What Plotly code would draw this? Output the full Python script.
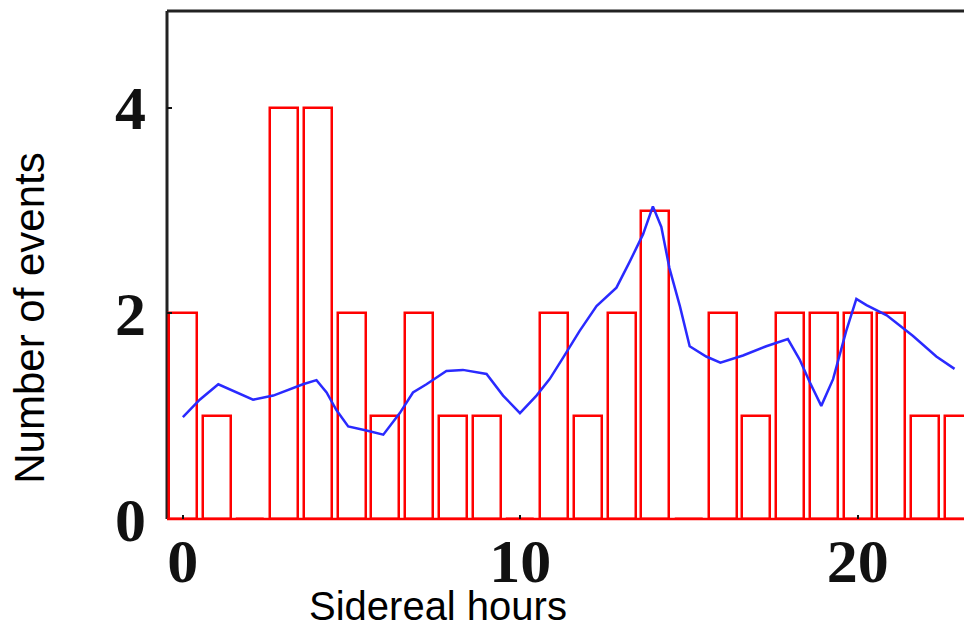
import plotly.graph_objects as go

# Event counts per sidereal hour bin
hours = list(range(24))
counts = [2, 1, 0, 4, 4, 2, 1, 2, 1, 1, 0, 2, 1, 2, 3, 0, 2, 1, 2, 2, 2, 2, 1, 1]

# Smoothed rate curve (sidereal hour, events)
curve_h = [0.0, 0.5, 1.05, 2.08, 2.68, 3.07, 3.56, 3.96, 4.26, 4.55, 4.90, 5.44,
           5.94, 6.43, 6.82, 7.22, 7.81, 8.3, 9.0, 9.49, 9.99, 10.48, 10.87, 11.27,
           11.76, 12.26, 12.85, 13.24, 13.64, 13.93, 14.18, 14.42, 14.73, 15.02,
           15.51, 15.93, 16.6, 17.29, 17.93, 18.28, 18.58, 18.92, 19.27, 19.66,
           19.96, 20.26, 20.86, 21.64, 22.33, 22.87]
curve_v = [0.99, 1.16, 1.31, 1.16, 1.20, 1.25, 1.31, 1.35, 1.23, 1.06, 0.90, 0.86,
           0.82, 1.03, 1.23, 1.31, 1.44, 1.45, 1.41, 1.20, 1.03, 1.20, 1.36, 1.57,
           1.83, 2.07, 2.25, 2.50, 2.77, 3.04, 2.84, 2.44, 2.07, 1.68,
           1.58, 1.52, 1.59, 1.68, 1.75, 1.55, 1.33, 1.10, 1.36, 1.83,
           2.14, 2.08, 1.98, 1.78, 1.58, 1.46]

x_ticks = [0, 10, 20]
y_ticks = [0, 2, 4]

fig = go.Figure()

fig.add_trace(go.Bar(
    x=hours, y=counts, width=0.83,
    marker=dict(color="rgba(255,255,255,0)", line=dict(color="#ff0000", width=2.5)),
    hoverinfo="x+y",
))

fig.add_trace(go.Scatter(
    x=curve_h, y=curve_v, mode="lines",
    line=dict(color="#2a2aff", width=2.5),
))

tick_font = dict(family="Liberation Serif", size=62, color="#111111", weight="bold")

fig.update_layout(
    width=964, height=627,
    margin=dict(l=167, r=0, t=11, b=108),
    paper_bgcolor="white", plot_bgcolor="white",
    showlegend=False,
    bargap=0,
    xaxis=dict(
        range=[-0.47, 23.15], tickvals=x_ticks, ticktext=[str(v) for v in x_ticks],
        showgrid=False, zeroline=False, showline=False,
        ticks="inside", ticklen=4, tickwidth=2, tickcolor="#111111",
        tickfont=tick_font, ticklabelstandoff=0,
    ),
    yaxis=dict(
        range=[0, 4.94], tickvals=y_ticks, ticktext=[str(v) for v in y_ticks],
        showgrid=False, zeroline=False, showline=False,
        ticks="inside", ticklen=5, tickwidth=2, tickcolor="#111111",
        tickfont=tick_font, ticklabelstandoff=20,
    ),
    shapes=[
        # left and top frame lines
        dict(type="line", xref="paper", yref="paper", x0=0, x1=0, y0=0, y1=1,
             line=dict(color="#222222", width=3), layer="below"),
        dict(type="line", xref="paper", yref="paper", x0=0, x1=1, y0=1, y1=1,
             line=dict(color="#222222", width=3), layer="below"),
        # baseline
        dict(type="line", xref="paper", yref="paper", x0=0, x1=1, y0=0, y1=0,
             line=dict(color="#ff0000", width=2.5), layer="below"),
    ],
    annotations=[
        dict(text="Number of events", xref="paper", yref="paper",
             x=-0.172, y=0.396, xanchor="center", yanchor="middle",
             textangle=-90, showarrow=False,
             font=dict(family="Liberation Sans", size=42, color="black")),
        dict(text="Sidereal hours", xref="paper", yref="paper",
             x=0.34, y=-0.172, xanchor="center", yanchor="middle",
             showarrow=False,
             font=dict(family="Liberation Sans", size=40, color="black")),
    ],
)

fig.write_html("out.html")
